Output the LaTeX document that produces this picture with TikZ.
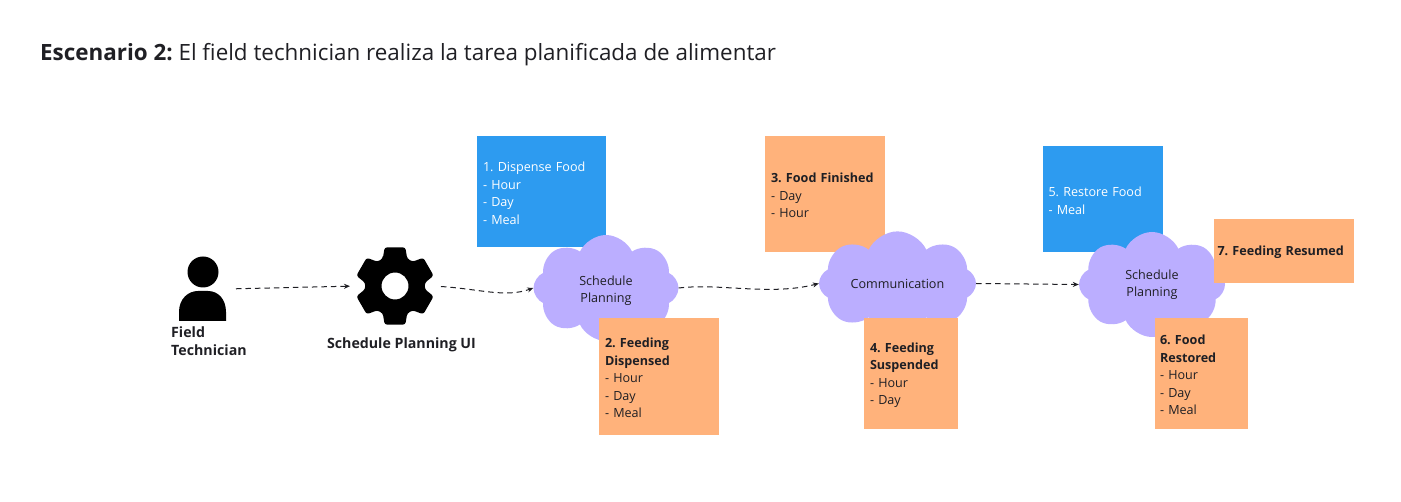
\documentclass[tikz,border=0pt]{standalone}
\usepackage{fontspec}
\setmainfont{Open Sans}
\usetikzlibrary{arrows.meta,shapes.symbols}
\definecolor{skyblue}{HTML}{2D9BF0}
\definecolor{peach}{HTML}{FFB27B}
\definecolor{lilac}{HTML}{BBAEFF}
\definecolor{inkdark}{HTML}{1F1F24}
\newcommand{\stickyfont}{\fontsize{12.6}{17.5}\selectfont}
\begin{document}
\frenchspacing
\begin{tikzpicture}[x=1pt, y=-1pt]
	\tikzstyle{every node} = [rectangle, text=inkdark, font=\stickyfont]
	\tikzstyle{sticky} = [anchor=north west, inner sep=0pt, outer sep=0pt, align=left, execute at begin node={\rule{0pt}{13pt}}]
	\tikzstyle{bluenote} = [sticky, fill=skyblue, text=white]
	\tikzstyle{orangenote} = [sticky, fill=peach]
	\tikzstyle{puff} = [cloud, cloud puffs=8, cloud puff arc=130, fill=lilac, inner sep=0pt, align=center]
	\tikzstyle{flow} = [->, >={Stealth[length=6pt,width=5pt]}, dash pattern=on 5.5pt off 4pt, draw=inkdark, line width=1pt]
	\tikzstyle{icon} = [inner sep=0pt, outer sep=0pt]
	\tikzstyle{caption} = [font=\fontsize{14.2}{18}\selectfont\bfseries, align=left, inner sep=0pt]
	\useasboundingbox (0,0) rectangle (1401,502);
	\node [anchor=west, inner sep=0pt, font=\fontsize{22.4}{26}\selectfont] (title) at (40,55) {\textbf{Escenario 2:} El field technician realiza la tarea planificada de alimentar};
	% user icon
	\node [icon, minimum width=47pt, minimum height=64pt] (person) at (202.5,289) {};
	\fill (203,272) circle (15.5);
	\fill (179,321) -- (179,312) .. controls (179,299) and (188,291) .. (198,291) -- (208,291) .. controls (218,291) and (226,299) .. (226,312) -- (226,321) -- cycle;
	\node [caption, anchor=north west] (personlabel) at (171,327) {Field\\Technician};
	% gear icon
	\node [icon, minimum width=76pt, minimum height=78pt] (gear) at (395,286) {};
	\fill [even odd rule, shift={(395,286)}] (0:13.5pt) arc (0:360:13.5pt)
		[rounded corners=2.5pt] (114:30pt)
		\foreach \a in {90,30,-30,-90,-150,-210} {
			-- (\a+15:40pt) -- (\a-15:40pt) -- (\a-24:30pt) -- (\a-36:30pt)
		} -- cycle;
	\node [caption, anchor=center] (gearlabel) at (401.5,345) {Schedule Planning UI};
	% blue notes
	\node [bluenote, minimum width=129pt, minimum height=111pt, text width=129pt] (dispense) at (477,136) {\hspace*{6pt}1. Dispense Food\\\hspace*{6pt}- Hour\\\hspace*{6pt}- Day\\\hspace*{6pt}- Meal};
	\node [bluenote, minimum width=120pt, minimum height=106pt, text width=120pt] (restore) at (1043,146) {\hspace*{5.5pt}5. Restore Food\\\hspace*{5.5pt}- Meal};
	\node [orangenote, minimum width=120pt, minimum height=116pt, text width=120pt] (finished) at (765,136) {\hspace*{6pt}\textbf{3. Food Finished}\\\hspace*{6pt}- Day\\\hspace*{6pt}- Hour};
	% clouds
	\node [puff, aspect=1.37, minimum width=145pt, minimum height=106pt] (planA) at (606,288) {\rule{0pt}{15pt}Schedule\\Planning};
	\node [puff, aspect=1.7, minimum width=157pt, minimum height=92pt] (comm) at (897.5,283.5) {Communication};
	\node [puff, aspect=1.39, minimum width=146pt, minimum height=105pt] (planB) at (1152,284.5) {Schedule\\Planning};
	% orange notes on top
	\node [orangenote, minimum width=120pt, minimum height=117pt, text width=120pt] (dispensed) at (599,318) {\hspace*{6pt}\textbf{2. Feeding}\\\hspace*{6pt}\textbf{Dispensed}\\\hspace*{6pt}- Hour\\\hspace*{6pt}- Day\\\hspace*{6pt}- Meal};
	\node [orangenote, minimum width=94pt, minimum height=111pt, text width=94pt] (suspended) at (864,318) {\hspace*{6pt}\textbf{4. Feeding}\\\hspace*{6pt}\textbf{Suspended}\\\hspace*{6pt}- Hour\\\hspace*{6pt}- Day};
	\node [orangenote, minimum width=93pt, minimum height=111pt, text width=93pt] (restored) at (1155,318) {\hspace*{5pt}\textbf{6. Food}\\\hspace*{5pt}\textbf{Restored}\\\hspace*{5pt}- Hour\\\hspace*{5pt}- Day\\\hspace*{5pt}- Meal};
	\node [orangenote, minimum width=140pt, minimum height=64pt, text width=140pt] (resumed) at (1214,219) {\hspace*{3.5pt}\textbf{7. Feeding Resumed}};
	% connectors
	\draw [flow, shorten <=10pt, shorten >=7pt] (person.east) -- (gear.west);
	\draw [flow, shorten <=8pt] (gear.east) .. controls (480,289) and (505,298) .. (planA.west);
	\draw [flow] (planA.east) .. controls (720,283) and (770,296) .. (comm.west);
	\draw [flow] (comm.east) -- (planB.west);
\end{tikzpicture}
\end{document}
